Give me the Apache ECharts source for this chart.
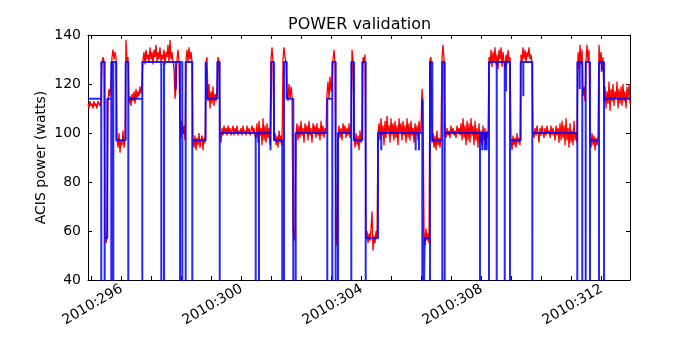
<!DOCTYPE html>
<html>
<head>
<meta charset="utf-8">
<script src="https://cdn.jsdelivr.net/npm/echarts@6/dist/echarts.min.js"></script>
<style>
html,body{margin:0;padding:0;background:#fff;}
#chart{width:700px;height:350px;}
</style>
</head>
<body>
<div id="chart"></div>
<script>
// ---- axis extents (day of year 2010) ----
const xMin = 294.877;
const xMax = 312.943;
const yMin = 40, yMax = 140, yStep = 20;
const minorTicks = [295,296,297,298,299,300,301,302,303,304,305,306,307,308,309,310,311,312];
const labelTicks = [296,300,304,308,312];

// ---- telemetry (red): evenly sampled, start + step in days ----
const redStart = 294.877;
const redStep = 1 / 30;
const redValues = [
 112,110,113,111,112,110,113,111,112,110,113,112,111,113,
 128,131,129,
 60,55,58,
 113,118,115,120,
 131,134,130,133,131,
 98,94,100,92,97,95,101,94,98,
 138,129,131,
 112,115,111,116,113,117,112,118,114,117,115,119,116,120,
 130,133,128,134,130,132,129,135,130,133,128,134,131,136,129,133,130,135,129,132,
 130,134,128,133,131,136,129,138,130,133,129,126,114,118,130,134,129,
 104,98,105,100,103,97,
 130,134,129,135,130,133,129,
 97,94,99,93,98,95,100,94,97,99,93,98,96,
 129,131,
 113,120,110,117,112,119,111,116,113,118,
 131,129,
 99,96,102,99,103,100,102,99,103,100,102,99,101,103,99,102,100,103,99,101,
 100,102,99,103,100,101,99,103,100,102,99,101,103,100,102,99,
 98,104,96,105,99,102,95,106,97,103,96,104,98,102,95,
 130,135,129,
 97,100,95,99,94,101,96,99,95,
 130,135,131,129,
 117,113,120,114,119,115,
 60,56,62,
 99,104,97,103,98,105,99,102,96,104,100,103,97,105,99,102,96,104,100,103,
 98,104,99,102,97,105,99,103,98,102,100,
 116,121,114,123,117,120,
 130,134,129,
 57,54,
 99,103,98,102,97,104,100,103,98,102,99,104,98,101,
 134,130,
 98,94,100,95,99,93,101,96,98,
 131,129,132,
 57,60,55,59,56,61,68,52,58,55,60,57,
 100,104,97,106,99,103,95,105,98,107,100,103,96,106,99,104,97,105,98,103,
 95,106,100,104,97,105,99,103,96,106,98,104,97,105,99,102,96,104,99,103,
 97,105,100,103,
 118,112,
 60,54,61,56,59,55,
 130,131,
 96,100,94,99,93,101,95,98,94,99,
 131,136,130,
 100,98,102,99,101,98,103,100,102,99,101,98,103,100,102,99,104,97,106,98,
 103,95,105,97,104,96,106,99,103,95,105,97,102,94,104,96,101,95,103,97,
 102,95,101,98,
 131,128,134,127,133,129,135,128,132,126,134,130,135,127,133,129,126,132,128,134,129,131,
 97,93,99,95,98,94,100,96,98,95,
 132,129,135,130,134,129,133,131,135,130,132,129,
 101,98,102,99,103,100,96,102,99,103,100,98,102,99,103,100,101,98,103,99,
 102,100,97,103,99,102,96,104,97,105,98,103,95,106,97,102,94,104,96,101,
 95,105,97,100,96,
 133,126,136,128,134,
 115,119,113,
 130,136,129,134,
 97,94,100,95,99,93,98,95,99,
 136,128,133,126,131,
 113,119,110,117,112,121,109,118,113,120,111,117,114,121,110,118,112,119,111,120,
 113,117,110,119,114,120,112
];

// ---- model (blue): change points [day, level]; 20 = drop below the axis ----
const blueSteps = [
 [294.877,114],[295.32,20],[295.32,129],[295.433,20],[295.433,57],[295.52,114],
 [295.653,20],[295.653,129],[295.72,20],[295.72,129],[295.82,97],[296.133,129],
 [296.22,20],[296.22,114],[296.687,20],[296.687,129],[297.32,20],[297.32,129],
 [297.41,20],[297.41,129],[297.8,118],[297.8,129],[297.943,20],[297.943,129],
 [298.02,20],[298.02,100],[298.133,20],[298.133,129],[298.353,20],[298.353,97],
 [298.8,129],[298.853,114],[299.187,129],[299.267,20],[299.267,100],
 [300.467,20],[300.467,100],[300.577,20],[300.577,100],[300.96,93],[300.987,129],
 [301.077,97],[301.353,20],[301.353,97],[301.41,20],[301.41,129],[301.5,114],
 [301.72,20],[301.72,57],[301.8,20],[301.8,100],[302.853,20],[302.853,114],
 [303.02,20],[303.02,129],[303.133,20],[303.133,57],[303.21,20],[303.21,100],
 [303.653,20],[303.653,129],[303.743,97],[304.02,129],[304.133,20],[304.133,57],
 [304.543,100],[304.653,93],[304.653,100],[305.8,93],[305.8,100],[305.91,93],[305.91,100],
 [306.02,20],[306.02,114],[306.053,20],[306.1,57],[306.277,20],[306.277,129],
 [306.353,97],[306.687,20],[306.687,129],[306.767,20],[306.767,100],
 [307.943,20],[307.943,100],[308.02,93],[308.02,100],[308.1,93],[308.1,100],
 [308.167,93],[308.167,100],[308.243,20],[308.243,129],[308.5,20],[308.5,129],
 [308.767,20],[308.767,129],[308.81,117],[308.81,129],[308.943,20],[308.943,97],
 [309.3,129],[309.387,115],[309.387,129],[309.687,20],[309.687,100],
 [311.187,20],[311.187,129],[311.267,118],[311.267,129],[311.353,20],[311.353,118],
 [311.467,20],[311.467,129],[311.61,20],[311.61,97],[311.91,20],[311.91,129],
 [312.0,125],[312.0,129],[312.077,20],[312.077,114],[312.943,114]
];

const titleText = 'POWER validation';
const yName = 'ACIS power (watts)';

const redData = redValues.map((v, i) => [redStart + i * redStep, v]);

const font = 'DejaVu Sans';
const chart = echarts.init(document.getElementById('chart'), null, {renderer: 'canvas'});
const axisLineStyle = {color: '#000', width: 1};
chart.setOption({
  animation: false,
  backgroundColor: '#fff',
  title: {
    text: titleText, left: 283, top: 12,
    textStyle: {fontFamily: font, fontSize: 16, fontWeight: 'normal', color: '#000'}
  },
  grid: {left: 88, right: 70, top: 35, bottom: 70, containLabel: false},
  xAxis: [{
    type: 'value', min: xMin, max: xMax, position: 'bottom',
    axisLine: {show: true, lineStyle: axisLineStyle},
    axisTick: {show: true, inside: true, length: 4, customValues: minorTicks, lineStyle: axisLineStyle},
    axisLabel: {show: true, customValues: labelTicks, rotate: 30, margin: 8,
      fontFamily: font, fontSize: 14, color: '#000',
      formatter: v => '2010:' + Math.round(v)},
    splitLine: {show: false}
  }, {
    type: 'value', min: xMin, max: xMax, position: 'top',
    axisLine: {show: true, lineStyle: axisLineStyle},
    axisTick: {show: true, inside: true, length: 4, customValues: minorTicks, lineStyle: axisLineStyle},
    axisLabel: {show: false}, splitLine: {show: false}
  }],
  yAxis: [{
    type: 'value', min: yMin, max: yMax, interval: yStep, position: 'left',
    name: yName, nameLocation: 'middle', nameGap: 40, nameMoveOverlap: false,
    nameTextStyle: {fontFamily: font, fontSize: 14, color: '#000'},
    axisLine: {show: true, lineStyle: axisLineStyle},
    axisTick: {show: true, inside: true, length: 4, lineStyle: axisLineStyle},
    axisLabel: {fontFamily: font, fontSize: 14, color: '#000', margin: 7},
    splitLine: {show: false}
  }, {
    type: 'value', min: yMin, max: yMax, interval: yStep, position: 'right',
    axisLine: {show: true, lineStyle: axisLineStyle},
    axisTick: {show: true, inside: true, length: 4, lineStyle: axisLineStyle},
    axisLabel: {show: false}, splitLine: {show: false}
  }],
  series: [{
    type: 'line', name: 'telemetry', data: redData, xAxisIndex: 0, yAxisIndex: 0,
    showSymbol: false, symbol: 'none', clip: true,
    lineStyle: {color: '#ff0000', width: 1.3}, z: 2
  }, {
    type: 'line', name: 'model', data: blueSteps, step: 'end', xAxisIndex: 0, yAxisIndex: 0,
    showSymbol: false, symbol: 'none', clip: true,
    lineStyle: {color: '#0000ff', width: 2, opacity: 0.85}, z: 3
  }]
});
</script>
</body>
</html>
